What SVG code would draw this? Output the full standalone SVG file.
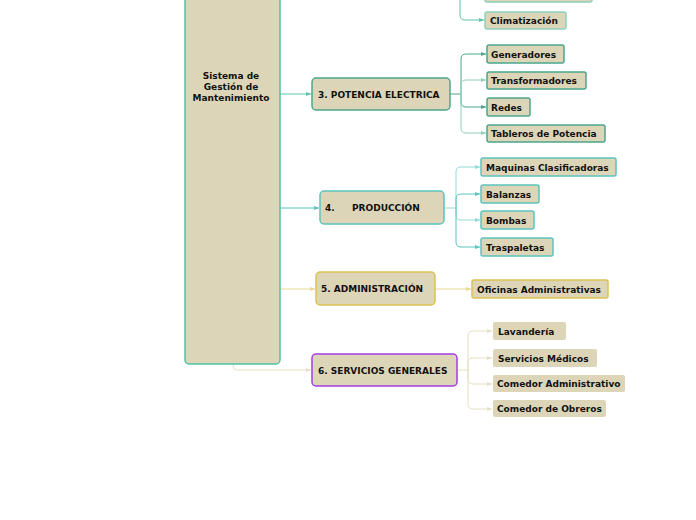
<svg xmlns="http://www.w3.org/2000/svg" width="696" height="520" viewBox="0 0 696 520">
<style>
text{font-family:"DejaVu Sans",Verdana,sans-serif;font-weight:bold;font-size:9px;fill:#111}
.n{fill:#ddd5b8;stroke-width:1.5}
.g{stroke:#4aa68c}.t{stroke:#5cc4bf}.y{stroke:#dcc254}.p{stroke:#a33ee6}
.c{fill:none;stroke-width:1}
</style>
<defs>
<marker id="a" markerWidth="6" markerHeight="6" refX="5" refY="3" orient="auto"><path d="M0,1 L5,3 L0,5z" fill="context-stroke"/></marker>
</defs>
<rect width="696" height="520" fill="#fff"/>
<g id="connectors" marker-end="url(#a)">
<path class="c" stroke="#5cc4a8" d="M460,-10 V15 Q460,20 465,20 H484"/>
<path class="c" stroke="#5cc4a8" d="M280,94 H311"/>
<path class="c" stroke="#4aa68c" d="M450,94 H461 V59 Q461,54 466,54 H486"/>
<path class="c" stroke="#8fd0bc" d="M461,94 V85 Q461,80 466,80 H486"/>
<path class="c" stroke="#4aa68c" d="M461,94 V102 Q461,107 466,107 H486"/>
<path class="c" stroke="#8fd0bc" d="M461,94 V128 Q461,133 466,133 H486"/>
<path class="c" stroke="#5cc4bf" d="M280,208 H319"/>
<path class="c" stroke="#8fdad6" d="M444,208 H456 V172 Q456,167 461,167 H480"/>
<path class="c" stroke="#5cc4bf" d="M456,208 V199 Q456,194 461,194 H480"/>
<path class="c" stroke="#8fdad6" d="M456,208 V215 Q456,220 461,220 H480"/>
<path class="c" stroke="#5cc4bf" d="M456,208 V242 Q456,247 461,247 H480"/>
<path class="c" stroke="#e8d890" d="M280,289 H315"/>
<path class="c" stroke="#e8d890" d="M435,289 H471"/>
<path class="c" stroke="#e6dfc4" d="M233,364 V366 Q233,370 237,370 H311"/>
<path class="c" stroke="#e6dfc4" d="M457,370 H468 V336 Q468,331 473,331 H492"/>
<path class="c" stroke="#e6dfc4" d="M468,370 V363 Q468,358 473,358 H492"/>
<path class="c" stroke="#e6dfc4" d="M468,370 V379 Q468,384 473,384 H492"/>
<path class="c" stroke="#e6dfc4" d="M468,370 V404 Q468,409 473,409 H492"/>
</g>
<g id="root"><rect class="n" stroke="#4cc4a4" x="185" y="-6" width="95" height="370" rx="4"/>
<text x="231" y="79" text-anchor="middle">Sistema de</text><text x="231" y="90" text-anchor="middle">Gestión de</text><text x="231" y="101" text-anchor="middle">Mantenimiento</text></g>
<g id="top"><rect class="n" stroke="#8fd0bc" x="485" y="-10" width="107" height="12" rx="2"/></g>
<g id="clima"><rect class="n" stroke="#8fd0bc" x="485" y="12" width="81" height="17" rx="2"/><text x="490" y="24">Climatización</text></g>
<g id="n3"><rect class="n g" x="312" y="78" width="138" height="32" rx="4"/><text x="318" y="98">3. POTENCIA ELECTRICA</text></g>
<g id="gen"><rect class="n g" x="487" y="45" width="77" height="18" rx="2"/><text x="491" y="58">Generadores</text></g>
<g id="trans"><rect class="n g" x="487" y="72" width="99" height="17" rx="2"/><text x="491" y="84">Transformadores</text></g>
<g id="redes"><rect class="n g" x="487" y="98" width="43" height="18" rx="2"/><text x="491" y="111">Redes</text></g>
<g id="tab"><rect class="n g" x="487" y="125" width="118" height="17" rx="2"/><text x="491" y="137">Tableros de Potencia</text></g>
<g id="n4"><rect class="n t" x="320" y="191" width="124" height="33" rx="4"/><text x="325" y="211">4.</text><text x="352" y="211">PRODUCCIÓN</text></g>
<g id="maq"><rect class="n t" x="481" y="158" width="135" height="18" rx="2"/><text x="486" y="171">Maquinas Clasificadoras</text></g>
<g id="bal"><rect class="n t" x="481" y="185" width="58" height="18" rx="2"/><text x="486" y="198">Balanzas</text></g>
<g id="bom"><rect class="n t" x="481" y="211" width="53" height="18" rx="2"/><text x="486" y="224">Bombas</text></g>
<g id="tras"><rect class="n t" x="481" y="238" width="72" height="18" rx="2"/><text x="486" y="251">Traspaletas</text></g>
<g id="n5"><rect class="n y" x="316" y="272" width="119" height="33" rx="4"/><text x="321" y="292">5. ADMINISTRACIÓN</text></g>
<g id="ofi"><rect class="n y" x="472" y="280" width="136" height="18" rx="2"/><text x="477" y="293">Oficinas Administrativas</text></g>
<g id="n6"><rect class="n p" x="312" y="354" width="145" height="32" rx="4"/><text x="318" y="374">6. SERVICIOS GENERALES</text></g>
<g id="lav"><rect fill="#ddd5b8" x="493" y="322" width="73" height="18" rx="2"/><text x="498" y="335">Lavandería</text></g>
<g id="med"><rect fill="#ddd5b8" x="493" y="349" width="104" height="18" rx="2"/><text x="498" y="362">Servicios Médicos</text></g>
<g id="cadm"><rect fill="#ddd5b8" x="493" y="375" width="132" height="17" rx="2"/><text x="497" y="387">Comedor Administrativo</text></g>
<g id="cobr"><rect fill="#ddd5b8" x="493" y="400" width="113" height="17" rx="2"/><text x="497" y="412">Comedor de Obreros</text></g>
</svg>
